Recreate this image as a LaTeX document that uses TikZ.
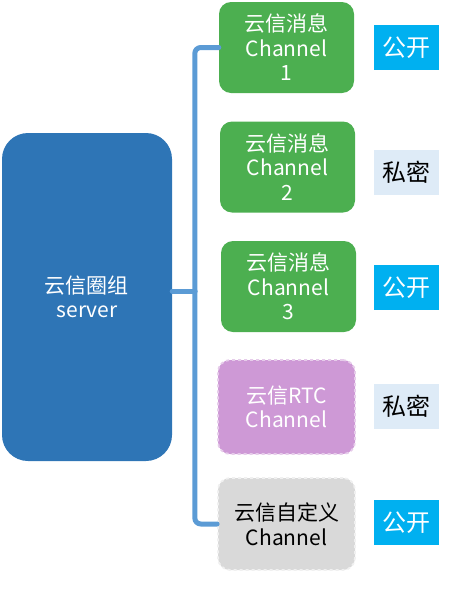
\documentclass[tikz,border=0pt]{standalone}
\usepackage{fontspec}
\newfontfamily\cjk{Noto Sans CJK SC}
\usetikzlibrary{positioning}
\definecolor{srvblue}{HTML}{2E75B6}
\definecolor{msggreen}{HTML}{4CAF50}
\definecolor{rtcpink}{HTML}{CE99D6}
\definecolor{custgray}{HTML}{D9D9D9}
\definecolor{braceblue}{HTML}{5B9BD5}
\definecolor{pubcyan}{HTML}{00B0F0}
\definecolor{privpale}{HTML}{DEEBF7}
\tikzset{
  chan/.style   = {rounded corners=12pt, minimum width=135pt, minimum height=91pt,
                   inner sep=0pt, align=center, font=\cjk\fontsize{21}{24.5}\selectfont},
  msg/.style    = {chan, fill=msggreen, text=white},
  rtc/.style    = {chan, fill=rtcpink, draw=rtcpink!50!white, dashed, line width=1.8pt,
                   text=white, minimum width=137pt, minimum height=94pt},
  cust/.style   = {chan, fill=custgray, draw=custgray!40!white, dashed, line width=1.8pt,
                   text=black, minimum width=137pt, minimum height=92pt},
  tag/.style    = {minimum width=65pt, minimum height=45pt, inner sep=0pt,
                   font=\cjk\fontsize{24}{26}\selectfont},
  pub/.style    = {tag, fill=pubcyan, text=white},
  priv/.style   = {tag, fill=privpale, text=black},
  brace/.style  = {draw=braceblue, line width=5pt, rounded corners=6pt, line cap=round},
}
\begin{document}
\begin{tikzpicture}[x=1pt,y=-1pt]
 \useasboundingbox (0,0) rectangle (463,592);
 % server
 \node[fill=srvblue, rounded corners=26pt, minimum width=170pt, minimum height=328pt,
       inner sep=0pt, align=center, text=white, font=\cjk\fontsize{21}{24.5}\selectfont]
       (srv) at (87,297) {云信圈组\\server};
 % channels
 \node[msg]  (ch1)  at (286.5,47.5) {云信消息\\Channel\\1};
 \node[msg]  (ch2)  at (287.5,167)  {云信消息\\Channel\\2};
 \node[msg]  (ch3)  at (288.5,286.5) {云信消息\\Channel\\3};
 \node[rtc]  (rtcc) at (286.5,407)  {云信RTC\\Channel};
 \node[cust] (cus)  at (286.5,524)  {云信自定义\\Channel};
 % tags
 \node[pub]  (t1) at (406.5,47.5)  {公开};
 \node[priv] (t2) at (406.5,172.5) {私密};
 \node[pub]  (t3) at (406.5,287.5) {公开};
 \node[priv] (t4) at (406.5,406.5) {私密};
 \node[pub]  (t5) at (406.5,522.5) {公开};
 % brace
 \draw[brace] (ch1.west) -- ++(-24,0) |- (cus.west);
 \draw[brace] ([yshift=6pt]srv.east) -- ++(23,0);
\end{tikzpicture}
\end{document}
